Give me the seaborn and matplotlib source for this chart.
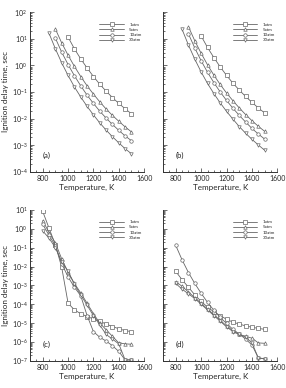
import numpy as np
import pandas as pd
import seaborn as sns
import matplotlib
matplotlib.use("Agg")
import matplotlib.pyplot as plt
from matplotlib.ticker import MultipleLocator, LogLocator, NullFormatter

sns.set_theme(style="ticks")
plt.rcParams['font.family'] = ['Lato', 'DejaVu Sans']
plt.rcParams['mathtext.fontset'] = 'custom'
plt.rcParams['mathtext.rm'] = 'Lato'

# ignition delay, log10(tau / s)
labels = ["1atm", "5atm", "10atm", "30atm"]
markers = ["s", "^", "o", "v"]
start_T = [1000, 900, 900, 850]

# panel (a)
a_1 = [1.06, 0.62, 0.24, -0.10, -0.42, -0.71, -0.97, -1.21, -1.43, -1.63, -1.82]
a_5 = [1.36, 0.84, 0.38, -0.04, -0.42, -0.77, -1.08, -1.37, -1.64, -1.88, -2.10, -2.31, -2.50]
a_10 = [1.02, 0.49, 0.03, -0.39, -0.77, -1.12, -1.43, -1.72, -1.98, -2.22, -2.44, -2.65, -2.83]
a_30 = [1.20, 0.62, 0.09, -0.38, -0.81, -1.19, -1.54, -1.86, -2.16, -2.43, -2.68, -2.91, -3.13, -3.32]

# panel (b)
b_1 = [1.10, 0.67, 0.29, -0.06, -0.38, -0.67, -0.93, -1.17, -1.39, -1.60, -1.79]
b_5 = [1.45, 0.92, 0.45, 0.02, -0.37, -0.72, -1.04, -1.33, -1.60, -1.85, -2.08, -2.29, -2.48]
b_10 = [1.18, 0.65, 0.17, -0.26, -0.65, -1.00, -1.32, -1.61, -1.88, -2.13, -2.37, -2.58, -2.77]
b_30 = [1.35, 0.76, 0.23, -0.25, -0.68, -1.06, -1.41, -1.73, -2.02, -2.30, -2.55, -2.78, -2.99, -3.19]

# panels (c) and (d): every pressure from 800 to 1500 K
T_cd = list(range(800, 1501, 50))
c_1 = [0.92, 0.03, -0.85, -2.05, -3.94, -4.30, -4.50, -4.65, -4.78, -4.90, -5.05, -5.18, -5.30, -5.40, -5.45]
c_5 = [0.43, -0.20, -0.75, -1.60, -2.30, -2.90, -3.40, -3.95, -4.50, -5.00, -5.35, -5.70, -6.05, -6.10, -6.12]
c_10 = [0.24, -0.35, -0.90, -1.85, -2.55, -3.10, -3.55, -4.60, -5.45, -5.75, -5.95, -6.20, -6.50, -6.95, -6.95]
c_30 = [-0.11, -0.50, -1.00, -1.75, -2.25, -2.95, -3.50, -4.05, -4.60, -5.10, -5.60, -5.85, -6.10, -6.95, -6.95]

d_1 = [-2.26, -2.70, -3.10, -3.50, -3.85, -4.15, -4.40, -4.60, -4.80, -4.95, -5.05, -5.15, -5.22, -5.28, -5.33]
d_5 = [-2.80, -3.05, -3.35, -3.65, -3.95, -4.25, -4.55, -4.85, -5.15, -5.40, -5.60, -5.70, -5.80, -6.05, -6.07]
d_10 = [-0.88, -1.65, -2.32, -2.90, -3.42, -3.90, -4.32, -4.70, -5.02, -5.33, -5.58, -5.85, -6.16, -6.85, -6.90]
d_30 = [-2.90, -3.20, -3.45, -3.70, -4.00, -4.30, -4.60, -4.90, -5.20, -5.45, -5.60, -5.75, -6.05, -6.85, -6.88]

panels = {
    "(a)": [a_1, a_5, a_10, a_30],
    "(b)": [b_1, b_5, b_10, b_30],
    "(c)": [c_1, c_5, c_10, c_30],
    "(d)": [d_1, d_5, d_10, d_30],
}

fig = plt.figure(figsize=(2.86, 3.88), dpi=100)
boxes = {
    "(a)": [0.105, 0.557, 0.399, 0.412],
    "(b)": [0.570, 0.557, 0.400, 0.412],
    "(c)": [0.105, 0.070, 0.399, 0.389],
    "(d)": [0.570, 0.070, 0.400, 0.389],
}
gray = "#666666"

for name, series in panels.items():
    ax = fig.add_axes(boxes[name])
    top = name in ("(a)", "(b)")
    for lab, mk, t0, vals in zip(labels, markers, start_T, series):
        if top:
            T = list(range(t0, 1501, 50))
        else:
            T = T_cd
        df = pd.DataFrame({"T": T, "tau": 10.0 ** np.array(vals)})
        sns.lineplot(data=df, x="T", y="tau", ax=ax, color=gray, lw=0.6,
                     marker=mk, markersize=2.5, markerfacecolor="white",
                     markeredgecolor=gray, markeredgewidth=0.5, label=lab)
    ax.set_yscale("log")
    ax.set_xlim(700, 1600)
    if top:
        ax.set_ylim(1e-4, 1e2)
    else:
        ax.set_ylim(1e-7, 1e1)
    ax.xaxis.set_major_locator(MultipleLocator(200))
    ax.xaxis.set_minor_locator(MultipleLocator(50))
    ax.yaxis.set_major_locator(LogLocator(base=10, numticks=20))
    ax.yaxis.set_minor_locator(LogLocator(base=10, subs=np.arange(2, 10), numticks=20))
    ax.yaxis.set_minor_formatter(NullFormatter())
    ax.tick_params(which="both", direction="in", color="#333333", width=0.5,
                   labelsize=5, pad=2, top=False, right=False)
    ax.tick_params(which="major", length=3)
    ax.tick_params(which="minor", length=1.5)
    for s in ("left", "bottom"):
        ax.spines[s].set_linewidth(0.7)
        ax.spines[s].set_color("#333333")
    sns.despine(ax=ax)
    ax.set_xlabel("Temperature, K", fontsize=5.8, labelpad=1.5)
    if name in ("(a)", "(c)"):
        ax.set_ylabel("Ignition delay time, sec", fontsize=5.8, labelpad=1.5)
    else:
        ax.set_ylabel("")
        ax.set_yticklabels([])
    ax.text(0.11, 0.09, name, transform=ax.transAxes, fontsize=5.5, color="#222222")
    ax.legend(loc="upper right", bbox_to_anchor=(1.0, 0.95), frameon=False,
              fontsize=3.2, handlelength=5.5, labelspacing=0.25, handletextpad=1.2,
              borderaxespad=0.2)

fig.savefig("out.png", dpi=100)
